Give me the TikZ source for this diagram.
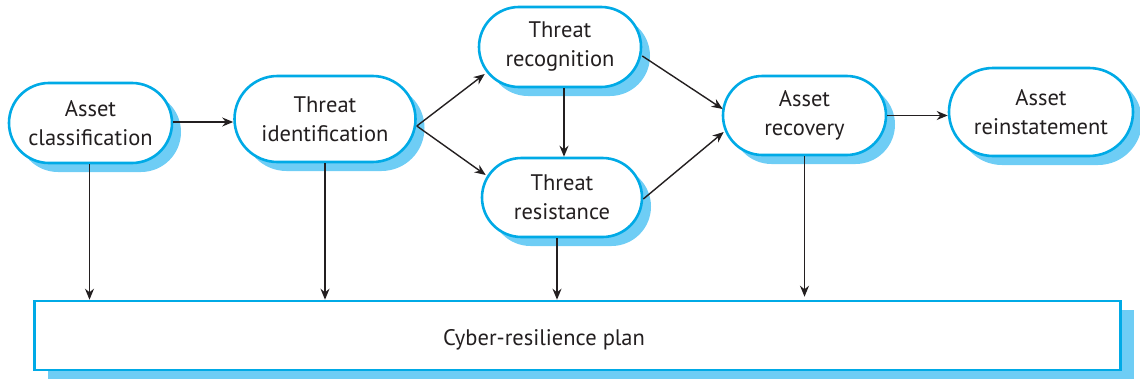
\documentclass[tikz,border=0pt]{standalone}
\usepackage{fontspec}
\setmainfont{PT Sans}
\usetikzlibrary{shapes.misc,shadows,arrows.meta}
\definecolor{bord}{RGB}{0,170,230}
\definecolor{shad}{RGB}{110,205,245}
\definecolor{ink}{RGB}{35,31,32}
\tikzset{
  proc/.style={rounded rectangle, draw=bord, line width=2.6pt, fill=white,
    inner sep=0pt, align=center, text=ink,
    font=\fontsize{22.5}{29}\selectfont,
    general shadow={fill=shad, shadow xshift=9pt, shadow yshift=-9pt}},
  planbox/.style={rectangle, draw=bord, line width=2.6pt, fill=white, inner sep=0pt,
    general shadow={fill=shad, shadow xshift=13pt, shadow yshift=-9pt}},
  conn/.style={draw=ink, line width=1.4pt, -{Stealth[length=11pt,width=9pt]}}
}
\begin{document}
\begin{tikzpicture}[x=1pt,y=-1pt]
\useasboundingbox (0,0) rectangle (1140,380);
\node[proc, minimum width=163pt, minimum height=80pt] (ac) at (90.5,123) {Asset\\classification};
\node[proc, minimum width=181pt, minimum height=86pt] (ti) at (325,119) {Threat\\identification};
\node[proc, minimum width=162pt, minimum height=80pt] (trec) at (560,47) {Threat\\recognition};
\node[proc, minimum width=160pt, minimum height=79pt] (tres) at (562,197.5) {Threat\\resistance};
\node[proc, minimum width=163pt, minimum height=79pt] (ar) at (804.5,115.5) {Asset\\recovery};
\node[proc, minimum width=184pt, minimum height=88pt] (are) at (1041,112) {Asset\\reinstatement};
\node[planbox, minimum width=1086pt, minimum height=69pt] (plan) at (577.5,335.5) {};
\node[text=ink, font=\fontsize{22.5}{29}\selectfont] (plantext) at (544,340) {Cyber-resilience plan};
% horizontal flow
\draw[conn] ([yshift=1pt]ac.east) -- ([yshift=1pt]ac.east -| ti.west);
\draw[conn] ([yshift=-7pt]ti.east) -- ([xshift=7pt,yshift=-27pt]trec.west);
\draw[conn] ([yshift=-7pt]ti.east) -- ([xshift=5pt,yshift=22.5pt]tres.west);
\draw[conn] ([xshift=4pt]trec.south) -- ([xshift=4pt]trec.south |- tres.north);
\draw[conn] ([yshift=-9pt]trec.east) -- ([xshift=1pt,yshift=6.5pt]ar.west);
\draw[conn] ([yshift=-1.5pt]tres.east) -- ([xshift=2pt,yshift=-16.5pt]ar.west);
\draw[conn] (ar.east) -- (ar.east -| are.west);
% down to plan
\draw[conn] ([xshift=-1pt]ac.south) -- ([xshift=-1pt]ac.south |- plan.north);
\draw[conn] (ti.south) -- (ti.south |- plan.north);
\draw[conn] ([xshift=-5pt]tres.south) -- ([xshift=-5pt]tres.south |- plan.north);
\draw[conn] (ar.south) -- ([yshift=3pt]ar.south |- plan.north);
\end{tikzpicture}
\end{document}
